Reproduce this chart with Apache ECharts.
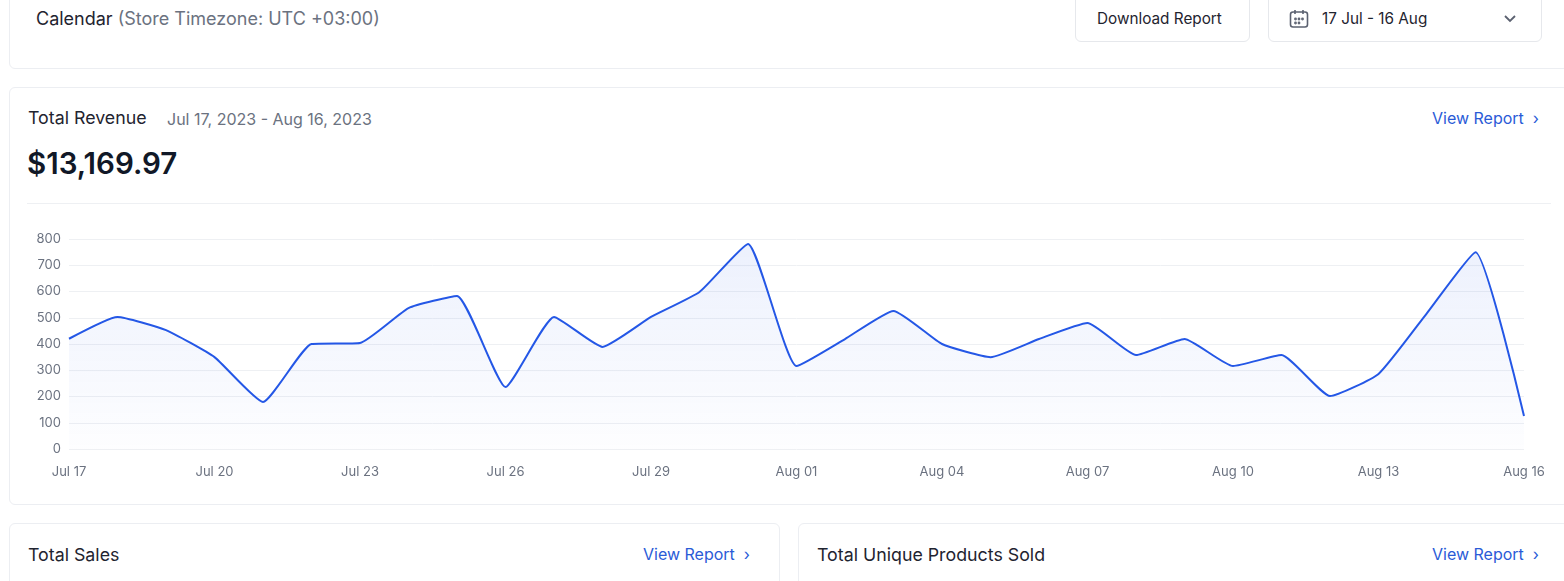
<!DOCTYPE html>
<html>
<head>
<meta charset="UTF-8">
<script src="https://cdn.jsdelivr.net/npm/echarts@6/dist/echarts.min.js"></script>
<style>
  body { margin: 0; width: 1564px; height: 581px; overflow: hidden; background: #fff; font-family: Inter, 'Noto Sans', sans-serif; position: relative; }
  .card { position: absolute; border: 1px solid #eceef2; border-radius: 6px; background: #fff; box-sizing: border-box; }
  .t { position: absolute; white-space: nowrap; }
  .btn { position: absolute; border: 1px solid #e6e8ec; border-radius: 6px; background: #fff; box-sizing: border-box; }
  .link { color: #2a5bd7; font-size: 16px; }
</style>
</head>
<body>
  <div class="card" style="left:9px;top:-10px;width:1560px;height:79px;"></div>
  <div class="t" style="left:36px;top:8px;font-size:18px;color:#1f2430;">Calendar <span style="color:#6b7280;">(Store Timezone: UTC +03:00)</span></div>
  <div class="btn" style="left:1075px;top:-6px;width:175px;height:48px;"></div>
  <div class="t" style="left:1097px;top:9px;font-size:15.3px;color:#1f2430;">Download Report</div>
  <div class="btn" style="left:1268px;top:-6px;width:274px;height:48px;"></div>
  <svg class="t" style="left:1288px;top:8px;" width="22" height="22" viewBox="0 0 22 22" fill="none" stroke="#5b6170" stroke-width="1.6">
    <rect x="2.5" y="4" width="17" height="15" rx="2.5"/><line x1="7" y1="2" x2="7" y2="6"/><line x1="15" y1="2" x2="15" y2="6"/>
    <circle cx="7.5" cy="11" r="0.6"/><circle cx="11" cy="11" r="0.6"/><circle cx="14.5" cy="11" r="0.6"/><circle cx="7.5" cy="15" r="0.6"/><circle cx="11" cy="15" r="0.6"/>
  </svg>
  <div class="t" style="left:1322px;top:9px;font-size:15.3px;color:#1f2430;">17 Jul - 16 Aug</div>
  <svg class="t" style="left:1503px;top:14px;" width="14" height="10" viewBox="0 0 14 10" fill="none" stroke="#5b6170" stroke-width="1.8"><polyline points="2,2 7,7 12,2"/></svg>

  <div class="card" style="left:9px;top:87px;width:1560px;height:418px;"></div>
  <div class="t" style="left:28px;top:107px;font-size:17.8px;color:#1f2430;">Total Revenue</div>
  <div class="t" style="left:167px;top:109px;font-size:16px;color:#6b7280;">Jul 17, 2023 - Aug 16, 2023</div>
  <div class="t link" style="left:1432px;top:108px;">View Report &nbsp;›</div>
  <div class="t" style="left:27px;top:145px;font-size:29.5px;font-weight:600;color:#111827;">$13,169.97</div>
  <div class="t" style="left:27px;top:203px;width:1524px;height:1px;background:#eef0f3;"></div>
  <div id="chart" style="position:absolute;left:0;top:220px;width:1564px;height:275px;"></div>

  <div class="card" style="left:9px;top:523px;width:771px;height:80px;"></div>
  <div class="t" style="left:28px;top:544px;font-size:17.8px;color:#1f2430;">Total Sales</div>
  <div class="t link" style="left:643px;top:544px;">View Report &nbsp;›</div>
  <div class="card" style="left:798px;top:523px;width:771px;height:80px;"></div>
  <div class="t" style="left:817px;top:544px;font-size:17.8px;color:#1f2430;">Total Unique Products Sold</div>
  <div class="t link" style="left:1432px;top:544px;">View Report &nbsp;›</div>

<script>
const days = ['Jul 17','Jul 18','Jul 19','Jul 20','Jul 21','Jul 22','Jul 23','Jul 24','Jul 25','Jul 26','Jul 27','Jul 28','Jul 29','Jul 30','Jul 31',
  'Aug 01','Aug 02','Aug 03','Aug 04','Aug 05','Aug 06','Aug 07','Aug 08','Aug 09','Aug 10','Aug 11','Aug 12','Aug 13','Aug 14','Aug 15','Aug 16'];
const revenue = [420,503,453,350,179,400,404,537,583,236,503,389,503,598,781,
  316,419,526,400,350,419,480,358,419,316,358,202,286,518,750,126];

const chart = echarts.init(document.getElementById('chart'));
chart.setOption({
  animation: false,
  grid: { left: 69, right: 40, top: 19, bottom: 46 },
  xAxis: {
    type: 'category', boundaryGap: false, data: days,
    axisLine: { show: false }, axisTick: { show: false },
    axisLabel: { interval: 2, color: '#6b7280', fontSize: 13, margin: 17, fontFamily: 'Inter' }
  },
  yAxis: {
    type: 'value', min: 0, max: 800, interval: 100,
    axisLabel: { color: '#6b7280', fontSize: 13, margin: 8, fontFamily: 'Inter', align: 'right' },
    splitLine: { lineStyle: { color: '#eef0f3' } }
  },
  series: [{
    type: 'line', data: revenue, symbol: 'none', smooth: 0.15,
    lineStyle: { color: '#2457e6', width: 2 },
    areaStyle: { color: new echarts.graphic.LinearGradient(0, 0, 0, 1, [
      { offset: 0, color: 'rgba(36,87,230,0.12)' }, { offset: 1, color: 'rgba(36,87,230,0.01)' }]) }
  }]
});
</script>
</body>
</html>
